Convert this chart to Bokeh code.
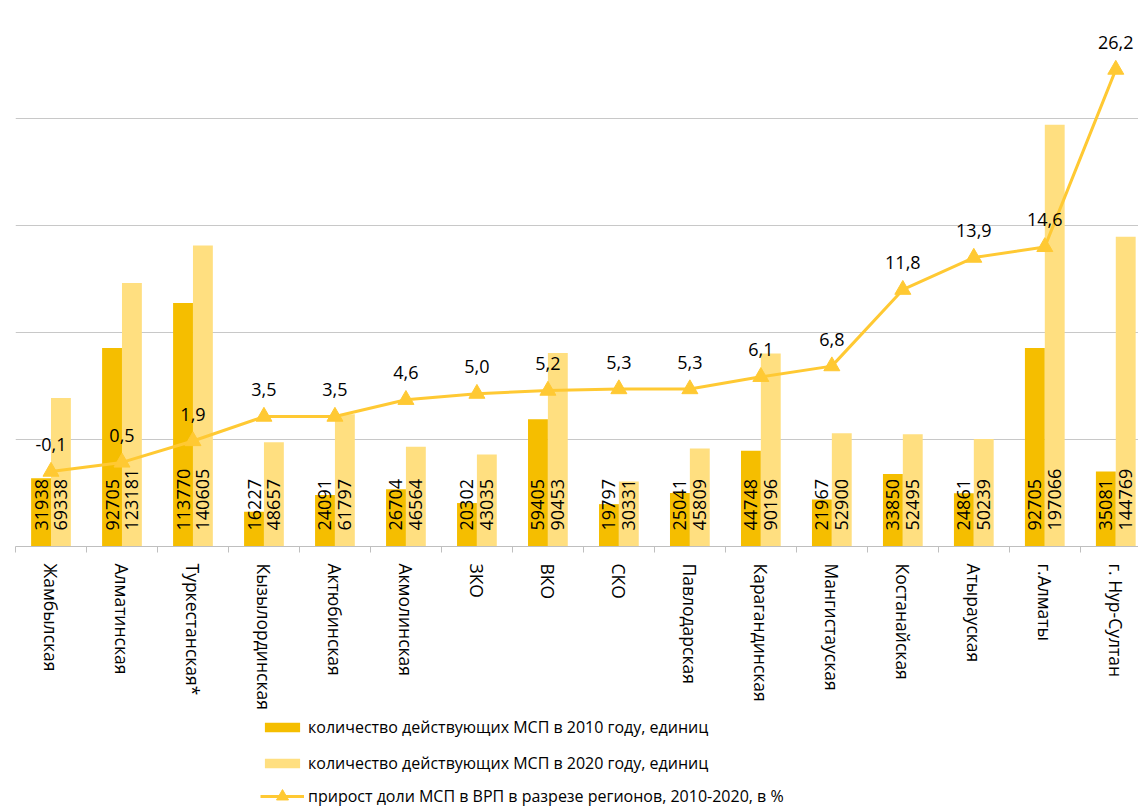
import math
from bokeh.plotting import figure
from bokeh.layouts import column
from bokeh.models import ColumnDataSource, Range1d, FixedTicker, Legend, LegendItem
from bokeh.core.properties import value
from bokeh.transform import dodge
from bokeh.embed import file_html
from bokeh.resources import INLINE

regions = ["Жамбылская", "Алматинская", "Туркестанская*", "Кызылординская",
           "Актюбинская", "Акмолинская", "ЗКО", "ВКО", "СКО", "Павлодарская",
           "Карагандинская", "Мангистауская", "Костанайская", "Атырауская",
           "г.Алматы", "г. Нур-Султан"]
msp_2010 = [31938, 92705, 113770, 16227, 24091, 26704, 20302, 59405, 19797,
            25041, 44748, 21967, 33850, 24861, 92705, 35081]
msp_2020 = [69338, 123181, 140605, 48657, 61797, 46564, 43035, 90453, 30331,
            45809, 90196, 52900, 52495, 50239, 197066, 144769]
growth = [-0.1, 0.5, 1.9, 3.5, 3.5, 4.6, 5.0, 5.2, 5.3, 5.3, 6.1, 6.8,
          11.8, 13.9, 14.6, 26.2]
y_ticks = [0, 50000, 100000, 150000, 200000, 250000]

label_2010 = "количество действующих МСП в 2010 году, единиц"
label_2020 = "количество действующих МСП в 2020 году, единиц"
label_growth = "прирост доли МСП в ВРП в разрезе регионов, 2010-2020, в %"

C2010 = "#F5BE00"
C2020 = "#FFDF80"
CLINE = "#FFC933"
FONT = "Open Sans"

xs = list(range(len(regions)))
src = ColumnDataSource(dict(
    x=xs,
    v10=msp_2010,
    v20=msp_2020,
    t10=[str(v) for v in msp_2010],
    t20=[str(v) for v in msp_2020],
    g=growth,
    gt=[f"{v:.1f}".replace(".", ",") for v in growth],
))

p = figure(width=1138, height=715,
           x_range=Range1d(-0.5, 15.32), y_range=Range1d(0, 250000),
           output_backend="svg", toolbar_location=None, y_axis_location=None,
           min_border_left=15, min_border_right=0, min_border_top=11,
           min_border_bottom=169)
p.extra_y_ranges = {"pct": Range1d(-5, 30)}
p.outline_line_color = None
p.background_fill_color = "white"
p.xgrid.visible = False
p.ygrid.ticker = FixedTicker(ticks=y_ticks)
p.ygrid.grid_line_color = "#C8C8C8"
p.ygrid.grid_line_width = 1

ax = p.xaxis[0]
ax.ticker = FixedTicker(ticks=xs, minor_ticks=[i - 0.5 for i in range(len(regions) + 1)])
ax.major_label_overrides = {i: r for i, r in enumerate(regions)}
ax.major_label_orientation = "vertical"
ax.major_tick_line_color = None
ax.major_tick_out = 0
ax.major_tick_in = 0
ax.minor_tick_line_color = "#BFBFBF"
ax.minor_tick_out = 6
ax.minor_tick_in = 0
ax.axis_line_color = "#BFBFBF"
ax.major_label_standoff = 11
ax.major_label_text_font = FONT
ax.major_label_text_font_size = "17.5px"
ax.major_label_text_color = "#000000"

p.vbar(x=dodge("x", -0.14), top="v10", width=0.28, source=src,
       fill_color=C2010, line_color=None)
p.vbar(x=dodge("x", 0.14), top="v20", width=0.28, source=src,
       fill_color=C2020, line_color=None)

p.text(x=dodge("x", -0.14), y=0, text="t10", source=src, angle=math.pi / 2,
       text_align="left", text_baseline="middle", y_offset=-16,
       text_font=value(FONT), text_font_size="18px", text_color="#000000")
p.text(x=dodge("x", 0.14), y=0, text="t20", source=src, angle=math.pi / 2,
       text_align="left", text_baseline="middle", y_offset=-16,
       text_font=value(FONT), text_font_size="18px", text_color="#000000")

p.line(x="x", y="g", source=src, y_range_name="pct",
       line_color=CLINE, line_width=3)
p.scatter(x="x", y="g", source=src, y_range_name="pct", marker="triangle",
          size=16, fill_color=CLINE, line_color=CLINE)
p.text(x="x", y="g", text="gt", source=src, y_range_name="pct",
       text_align="center", text_baseline="middle", y_offset=-27,
       text_font=value(FONT), text_font_size="18px", text_color="#000000")

# Legend panel (separate strip below the chart); legend carriers hold no
# drawable data (NaN), they only supply the legend swatches.
lg = figure(width=1138, height=93, x_range=Range1d(0, 1), y_range=Range1d(0, 1),
            output_backend="svg", toolbar_location=None,
            x_axis_location=None, y_axis_location=None,
            min_border_left=0, min_border_right=0, min_border_top=0,
            min_border_bottom=0)
lg.outline_line_color = None
lg.xgrid.visible = False
lg.ygrid.visible = False
nan = float("nan")
carrier = ColumnDataSource(dict(x=[nan], y=[nan]))
d10 = lg.vbar(x="x", top="y", width=0.1, source=carrier, fill_color=C2010, line_color=None)
d20 = lg.vbar(x="x", top="y", width=0.1, source=carrier, fill_color=C2020, line_color=None)
dl = lg.line(x="x", y="y", source=carrier, line_color=CLINE, line_width=3)
dm = lg.scatter(x="x", y="y", source=carrier, marker="triangle", size=16,
                fill_color=CLINE, line_color=CLINE)

common = dict(orientation="vertical", glyph_width=44, label_height=24,
              padding=0, margin=0, label_standoff=4,
              background_fill_alpha=0, border_line_color=None,
              label_text_font=FONT, label_text_font_size="16px",
              label_text_color="#000000")

legend_bars = Legend(items=[
    LegendItem(label=label_2010, renderers=[d10]),
    LegendItem(label=label_2020, renderers=[d20]),
], location=(245, 33), glyph_height=12, spacing=12, **common)
legend_line = Legend(items=[
    LegendItem(label=label_growth, renderers=[dl, dm]),
], location=(245, -3), glyph_height=30, spacing=0, **common)
lg.add_layout(legend_bars)
lg.add_layout(legend_line)

open("out.html", "w").write(file_html(column(p, lg, spacing=0), INLINE))
